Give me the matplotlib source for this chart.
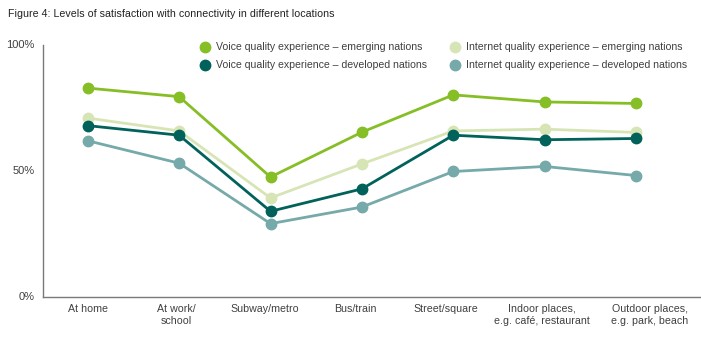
import matplotlib.pyplot as plt
import numpy as np

plt.rcParams['font.family'] = ['Liberation Sans', 'DejaVu Sans']

# Share of respondents satisfied (%) by location
locations = ['At home', 'At work/\nschool', 'Subway/metro', 'Bus/train', 'Street/square',
             'Indoor places,\ne.g. café, restaurant', 'Outdoor places,\ne.g. park, beach']
voice_emerging = [82.9, 79.5, 47.6, 65.4, 80.2, 77.4, 76.8]
internet_emerging = [71.0, 65.9, 39.3, 52.8, 65.9, 66.6, 65.3]
voice_developed = [68.0, 64.2, 34.0, 42.9, 64.2, 62.4, 62.9]
internet_developed = [62.0, 53.1, 29.1, 35.7, 49.8, 51.8, 48.2]

series = [
    ('Internet quality experience – developed nations', internet_developed, '#76a9a9'),
    ('Internet quality experience – emerging nations', internet_emerging, '#d7e5b6'),
    ('Voice quality experience – developed nations', voice_developed, '#00625a'),
    ('Voice quality experience – emerging nations', voice_emerging, '#86be26'),
]

fig = plt.figure(figsize=(7.01, 3.38), dpi=100)
ax = fig.add_axes([0.0613, 0.1213, 0.9373, 0.7456])

x = np.arange(len(locations))
for name, vals, col in series:
    ax.plot(x, vals, color=col, lw=2.0, marker='o', ms=7.5, mec=col, mfc=col,
            solid_capstyle='round', clip_on=False)

ax.set_ylim(0, 100)
ax.set_xlim(-0.49, 6.7)
ax.set_yticks([0, 50, 100])
ax.set_yticklabels(['0%', '50%', '100%'])
ax.set_xticks(x)
ax.set_xticklabels([])
ax.tick_params(axis='both', length=0, labelsize=8, labelcolor='#404040')
ax.tick_params(axis='y', pad=6)
for lbl in ax.get_yticklabels():
    lbl.set_verticalalignment('center')

# category labels under the axis; the last one is nudged right so the two
# long labels don't run into each other
shifts = [0, -2, -4, -5, -5, -2, 10]
for xi, name, dx in zip(x, locations, shifts):
    ax.annotate(name, xy=(xi, 0), xycoords=('data', 'axes fraction'),
                xytext=(dx, -5), textcoords='offset points', ha='center', va='top',
                fontsize=7.7, color='#404040', linespacing=1.2)

for s in ['top', 'right']:
    ax.spines[s].set_visible(False)
for s in ['left', 'bottom']:
    ax.spines[s].set_color('#7a7a7a')
    ax.spines[s].set_linewidth(1.0)

fig.text(8 / 701, 1 - 14 / 338, 'Figure 4: Levels of satisfaction with connectivity in different locations',
         fontsize=7.65, color='#222222', va='center', ha='left')

# legend laid out in two columns above the lines
legend_items = [
    ('Voice quality experience – emerging nations', '#86be26', 205, 47),
    ('Voice quality experience – developed nations', '#00625a', 205, 65),
    ('Internet quality experience – emerging nations', '#d7e5b6', 455, 47),
    ('Internet quality experience – developed nations', '#76a9a9', 455, 65),
]
for name, col, px, py in legend_items:
    fx, fy = px / 701, 1 - py / 338
    fig.add_artist(plt.Line2D([fx], [fy], marker='o', ms=7.5, color=col, ls='none',
                              transform=fig.transFigure))
    fig.text(fx + 11 / 701, fy, name, fontsize=7.6, color='#404040', va='center', ha='left')

fig.savefig('out.png', dpi=100)
